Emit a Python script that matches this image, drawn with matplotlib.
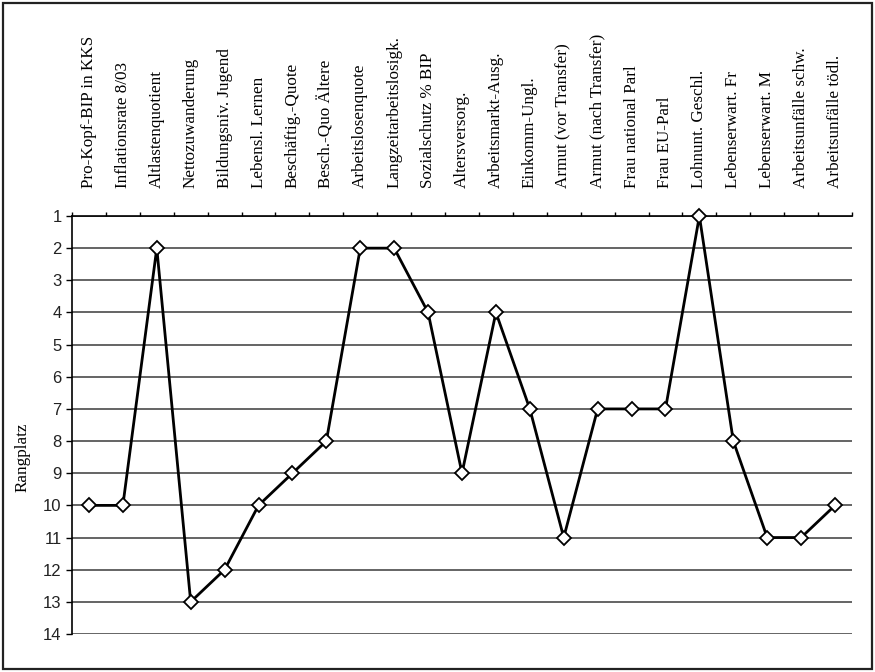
import matplotlib
matplotlib.use("Agg")
import matplotlib.pyplot as plt
from matplotlib.patches import Rectangle
import numpy as np

categories = [
    "Pro-Kopf-BIP in KKS", "Inflationsrate 8/03", "Altlastenquotient",
    "Nettozuwanderung", "Bildungsniv. Jugend", "Lebensl. Lernen",
    "Beschäftig.-Quote", "Besch.-Quo Ältere", "Arbeitslosenquote",
    "Langzeitarbeitslosigk.", "Sozialschutz % BIP", "Altersversorg.",
    "Arbeitsmarkt-Ausg.", "Einkomm-Ungl.", "Armut (vor Transfer)",
    "Armut (nach Transfer)", "Frau national Parl", "Frau EU-Parl",
    "Lohnunt. Geschl.", "Lebenserwart. Fr", "Lebenserwart. M",
    "Arbeitsunfälle schw.", "Arbeitsunfälle tödl.",
]
rank = [10, 10, 2, 13, 12, 10, 9, 8, 2, 2, 4, 9, 4, 7, 11, 7, 7, 7, 1, 8, 11, 11, 10]
rank_ticks = list(range(1, 15))

W, H = 875, 672
fig = plt.figure(figsize=(W / 100, H / 100), dpi=100)
fig.patch.set_facecolor("white")

# outer frame
fig.patches.append(Rectangle((3 / W, 3 / H), 869 / W, 666 / H, transform=fig.transFigure,
                             fill=False, edgecolor="#222222", linewidth=1.6))

left, right = 72 / W, 852 / W
top, bottom = 1 - 216 / H, 1 - 634 / H
ax = fig.add_axes([left, bottom, right - left, top - bottom])

x = np.arange(len(categories))
ax.set_xlim(-0.5, len(categories) - 0.5)
ax.set_ylim(14, 1)

for r in rank_ticks:
    ax.axhline(r, color="#4a4a4a", lw=1.2, zorder=1)

ax.plot(x, rank, color="black", lw=2.0, marker="D", markersize=7.6,
        markerfacecolor="white", markeredgecolor="black", markeredgewidth=1.3,
        zorder=3, clip_on=False)

for s in ["right", "bottom"]:
    ax.spines[s].set_visible(False)
ax.spines["top"].set_color("black")
ax.spines["top"].set_linewidth(1.2)
ax.spines["left"].set_color("black")
ax.spines["left"].set_linewidth(1.2)

ax.set_yticks(rank_ticks)
ax.set_yticklabels([str(r) for r in rank_ticks], fontfamily="Liberation Sans", fontsize=12,
                   color="#222222")
ax.tick_params(axis="y", direction="out", length=4.5, width=1.0, pad=3, colors="black")
for lbl in ax.get_yticklabels():
    lbl.set_color("#222222")

# category boundaries as ticks on the top line, labels at category centres
ax.xaxis.tick_top()
ax.set_xticks(np.arange(len(categories) + 1) - 0.5)
ax.set_xticklabels([])
ax.tick_params(axis="x", which="major", direction="out", length=3, width=1.0, top=True, bottom=False)
ax.set_xticks(x, minor=True)
ax.set_xticklabels(categories, minor=True, rotation=90, fontfamily="Liberation Serif",
                   fontsize=12.3, va="bottom", ha="center")
ax.tick_params(axis="x", which="minor", length=0, pad=20, top=True, bottom=False,
               labeltop=True, labelbottom=False)

fig.text(23 / W, 1 - 457 / H, "Rangplatz", rotation=90, ha="center", va="center",
         fontfamily="Liberation Serif", fontsize=12.3)

fig.savefig("out.png", dpi=100, facecolor="white")
